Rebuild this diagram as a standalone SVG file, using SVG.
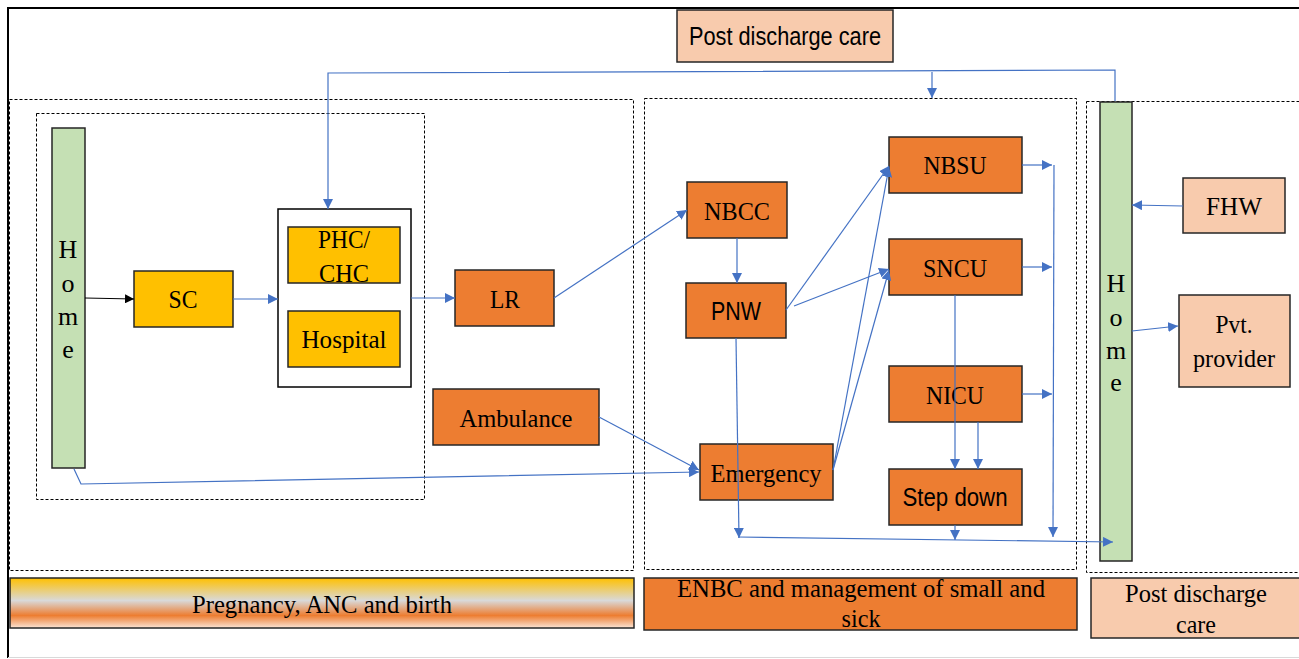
<svg xmlns="http://www.w3.org/2000/svg" width="1299" height="659" viewBox="0 0 1299 659">
<style>
.box{stroke:#262626;stroke-width:1.5}
.yel{fill:#FFC000}
.org{fill:#ED7D31}
.pch{fill:#F8CBAD}
.grn{fill:#C5E0B4}
.dash{fill:none;stroke:#000;stroke-width:1;stroke-dasharray:3,2}
.ser{font-family:"Liberation Serif","Times New Roman",serif;font-size:26px;fill:#000;text-anchor:middle}
.san{font-family:"Liberation Sans",Arial,sans-serif;font-size:25px;fill:#000;text-anchor:middle}
.con{fill:none;stroke:#4472C4;stroke-width:1.2}
</style>
<defs>
<marker id="ab" viewBox="0 0 10 10" refX="10" refY="5" markerWidth="10" markerHeight="10" markerUnits="userSpaceOnUse" orient="auto"><path d="M0,0 L10,5 L0,10 z" fill="#4472C4"/></marker>
<marker id="ak" viewBox="0 0 10 10" refX="10" refY="5" markerWidth="9" markerHeight="9" markerUnits="userSpaceOnUse" orient="auto"><path d="M0,0 L10,5 L0,10 z" fill="#000"/></marker>
<linearGradient id="pg" x1="0" y1="0" x2="0" y2="1">
<stop offset="0" stop-color="#FFC000"/>
<stop offset="0.45" stop-color="#D9D9D9"/>
<stop offset="0.75" stop-color="#ED7D31"/>
<stop offset="1" stop-color="#FBE5D6"/>
</linearGradient>
</defs>
<rect x="0" y="0" width="1299" height="659" fill="#fff"/>
<g id="frame">
<polyline points="8,658 8,8 1299,8" fill="none" stroke="#000" stroke-width="2"/>
<line x1="8" y1="657.5" x2="1299" y2="657.5" stroke="#D9D9D9" stroke-width="1"/>
</g>

<g id="containers">
<rect class="dash" x="9.5" y="99.5" width="624" height="471"/>
<rect class="dash" x="36.5" y="113.5" width="388" height="386"/>
<rect class="dash" x="644.5" y="98.5" width="432" height="471"/>
<rect class="dash" x="1086.5" y="101.5" width="220" height="471"/>
</g>

<g id="post-discharge-top">
<rect class="box pch" x="677" y="10" width="216" height="52"/>
<text class="san" x="785" y="45" textLength="192" lengthAdjust="spacingAndGlyphs">Post discharge care</text>
</g>

<g id="home-left">
<rect class="box grn" x="52" y="128" width="33" height="340"/>
<text class="ser" x="68" y="258">H</text>
<text class="ser" x="68" y="292">o</text>
<text class="ser" x="68" y="325">m</text>
<text class="ser" x="68" y="358">e</text>
</g>

<g id="sc">
<rect class="box yel" x="134" y="271" width="99" height="56"/>
<text class="ser" x="183" y="308" textLength="29" lengthAdjust="spacingAndGlyphs">SC</text>
</g>

<g id="facility">
<rect x="278" y="209" width="133" height="178" fill="#fff" stroke="#000" stroke-width="1.5"/>
</g>

<g id="phc-chc">
<rect class="box yel" x="288" y="227" width="112" height="56"/>
<text class="ser" x="344" y="248" textLength="52" lengthAdjust="spacingAndGlyphs">PHC/</text>
<text class="ser" x="344" y="282" textLength="50" lengthAdjust="spacingAndGlyphs">CHC</text>
</g>

<g id="hospital">
<rect class="box yel" x="288" y="311" width="112" height="56"/>
<text class="ser" x="344" y="348" textLength="85" lengthAdjust="spacingAndGlyphs">Hospital</text>
</g>

<g id="lr">
<rect class="box org" x="455" y="270" width="99" height="56"/>
<text class="ser" x="505" y="308" textLength="30" lengthAdjust="spacingAndGlyphs">LR</text>
</g>

<g id="ambulance">
<rect class="box org" x="433" y="389" width="166" height="56"/>
<text class="ser" x="516" y="427" textLength="113" lengthAdjust="spacingAndGlyphs">Ambulance</text>
</g>

<g id="nbcc">
<rect class="box org" x="687" y="182" width="100" height="56"/>
<text class="ser" x="737" y="220" textLength="66" lengthAdjust="spacingAndGlyphs">NBCC</text>
</g>

<g id="pnw">
<rect class="box org" x="686" y="283" width="100" height="55"/>
<text class="san" x="736" y="320" textLength="50" lengthAdjust="spacingAndGlyphs">PNW</text>
</g>

<g id="emergency">
<rect class="box org" x="700" y="444" width="133" height="56"/>
<text class="ser" x="766" y="482" textLength="111" lengthAdjust="spacingAndGlyphs">Emergency</text>
</g>

<g id="nbsu">
<rect class="box org" x="889" y="137" width="133" height="56"/>
<text class="ser" x="955" y="174" textLength="63" lengthAdjust="spacingAndGlyphs">NBSU</text>
</g>

<g id="sncu">
<rect class="box org" x="889" y="239" width="133" height="56"/>
<text class="ser" x="955" y="277" textLength="64" lengthAdjust="spacingAndGlyphs">SNCU</text>
</g>

<g id="nicu">
<rect class="box org" x="889" y="366" width="133" height="56"/>
<text class="ser" x="955" y="404" textLength="58" lengthAdjust="spacingAndGlyphs">NICU</text>
</g>

<g id="stepdown">
<rect class="box org" x="889" y="469" width="133" height="56"/>
<text class="san" x="955" y="506" textLength="105" lengthAdjust="spacingAndGlyphs">Step down</text>
</g>

<g id="home-right">
<rect class="box grn" x="1100" y="102" width="32" height="459"/>
<text class="ser" x="1116" y="292">H</text>
<text class="ser" x="1116" y="326">o</text>
<text class="ser" x="1116" y="359">m</text>
<text class="ser" x="1116" y="391">e</text>
</g>

<g id="fhw">
<rect class="box pch" x="1183" y="178" width="102" height="55"/>
<text class="ser" x="1234" y="215" textLength="56" lengthAdjust="spacingAndGlyphs">FHW</text>
</g>

<g id="pvt">
<rect class="box pch" x="1179" y="295" width="111" height="92"/>
<text class="ser" x="1234" y="333" textLength="37" lengthAdjust="spacingAndGlyphs">Pvt.</text>
<text class="ser" x="1234" y="367" textLength="82" lengthAdjust="spacingAndGlyphs">provider</text>
</g>

<g id="band-pregnancy">
<rect x="10" y="578" width="624" height="50" fill="url(#pg)" stroke="#262626" stroke-width="1.5"/>
<text class="ser" x="322" y="613" textLength="260" lengthAdjust="spacingAndGlyphs">Pregnancy, ANC and birth</text>
</g>

<g id="band-enbc">
<rect class="box org" x="644" y="578" width="433" height="52"/>
<text class="ser" x="861" y="597" textLength="368" lengthAdjust="spacingAndGlyphs">ENBC and management of small and</text>
<text class="ser" x="861" y="627" textLength="39" lengthAdjust="spacingAndGlyphs">sick</text>
</g>

<g id="band-post">
<rect class="box pch" x="1091" y="578" width="215" height="60"/>
<text class="ser" x="1196" y="602" textLength="142" lengthAdjust="spacingAndGlyphs">Post discharge</text>
<text class="ser" x="1196" y="633" textLength="40" lengthAdjust="spacingAndGlyphs">care</text>
</g>

<g id="connectors">
<line x1="85" y1="298" x2="134" y2="299" stroke="#000" stroke-width="1" marker-end="url(#ak)"/>
<line class="con" x1="233" y1="299" x2="278" y2="299" marker-end="url(#ab)"/>
<line class="con" x1="411" y1="298" x2="455" y2="298" marker-end="url(#ab)"/>
<line class="con" x1="554" y1="298" x2="687" y2="210" marker-end="url(#ab)"/>
<polyline class="con" points="1115,101 1115,70 328,73 328,209" marker-end="url(#ab)"/>
<line class="con" x1="932" y1="72" x2="932" y2="98" marker-end="url(#ab)"/>
<polyline class="con" points="74,469 81,484 699,472" marker-end="url(#ab)"/>
<line class="con" x1="599" y1="417" x2="699" y2="470" marker-end="url(#ab)"/>
<line class="con" x1="737" y1="238" x2="737" y2="283" marker-end="url(#ab)"/>
<line class="con" x1="786" y1="310" x2="889" y2="166" marker-end="url(#ab)"/>
<line class="con" x1="794" y1="306" x2="889" y2="269" marker-end="url(#ab)"/>
<line class="con" x1="833" y1="470" x2="889" y2="167" marker-end="url(#ab)"/>
<line class="con" x1="833" y1="470" x2="889" y2="270" marker-end="url(#ab)"/>
<line class="con" x1="1022" y1="165" x2="1052" y2="165" marker-end="url(#ab)"/>
<line class="con" x1="1022" y1="267" x2="1052" y2="267" marker-end="url(#ab)"/>
<line class="con" x1="1022" y1="394" x2="1052" y2="394" marker-end="url(#ab)"/>
<line class="con" x1="1054" y1="165" x2="1053" y2="537" marker-end="url(#ab)"/>
<line class="con" x1="955" y1="295" x2="955" y2="469" marker-end="url(#ab)"/>
<line class="con" x1="978" y1="422" x2="978" y2="469" marker-end="url(#ab)"/>
<line class="con" x1="955" y1="525" x2="955" y2="540" marker-end="url(#ab)"/>
<line class="con" x1="736" y1="338" x2="739" y2="538" marker-end="url(#ab)"/>
<line class="con" x1="738" y1="537" x2="1113" y2="542" marker-end="url(#ab)"/>
<line class="con" x1="1183" y1="206" x2="1132" y2="205" marker-end="url(#ab)"/>
<line class="con" x1="1132" y1="331" x2="1178" y2="326" marker-end="url(#ab)"/>
</g>
</svg>
